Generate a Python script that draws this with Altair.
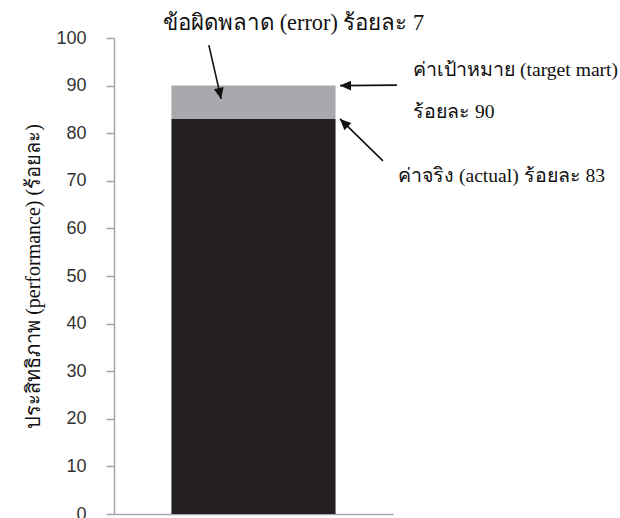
import altair as alt
import pandas as pd

# ---- data ----
categories = ["performance"]
segments = ["actual", "error"]
seg_values = [83, 7]
seg_order = [1, 2]
seg_colors = ["#231f20", "#a7a9ac"]

y_ticks = [0, 10, 20, 30, 40, 50, 60, 70, 80, 90, 100]
y_title = "ประสิทธิภาพ (performance) (ร้อยละ)"

# annotation text (x in 0..1 of plot width, y in axis units)
top_label = ["ข้อผิดพลาด (error) ร้อยละ 7"]
top_x = [0.176]
top_y = [101.7]
labels = ["ค่าเป้าหมาย (target mart)", "ร้อยละ 90", "ค่าจริง (actual) ร้อยละ 83"]
label_x = [1.072, 1.072, 1.018]
label_y = [92.0, 83.2, 69.7]

# arrows: start (x, y) -> tip (x2, y2)
arrow_x = [0.34, 1.014, 0.964]
arrow_y = [98.5, 90.1, 74.2]
arrow_x2 = [0.384, 0.81, 0.81]
arrow_y2 = [87.2, 90.0, 83.0]
arrow_angle = [167.5, 270, 314.3]

bars = pd.DataFrame({
    "cat": categories * len(segments),
    "segment": segments,
    "value": seg_values,
    "order": seg_order,
})
texts_top = pd.DataFrame({"label": top_label, "x": top_x, "y": top_y})
texts = pd.DataFrame({"label": labels, "x": label_x, "y": label_y})
arrows = pd.DataFrame({"x": arrow_x, "y": arrow_y, "x2": arrow_x2, "y2": arrow_y2, "angle": arrow_angle})

AX = "#a6a6a6"
FONT = "Liberation Serif"

yscale = alt.Scale(domain=[0, 100], nice=False)

bar = alt.Chart(bars).mark_bar().encode(
    x=alt.X("cat:N", scale=alt.Scale(paddingInner=0, paddingOuter=0.35),
            axis=alt.Axis(title=None, labels=False, ticks=False, domainColor=AX, domainWidth=1.5)),
    y=alt.Y("value:Q", stack="zero", scale=yscale,
            axis=alt.Axis(values=y_ticks, title=y_title, grid=False, tickSize=8, tickColor=AX, tickWidth=1.5,
                          domainColor=AX, domainWidth=1.5, labelPadding=20, labelFont="Liberation Sans",
                          labelFontSize=18, labelColor="#333333", titleFont=FONT, titleFontSize=20,
                          titleFontWeight="normal", titleColor="#111111", titleAngle=-90,
                          titleX=-81, titleY=238, titleAlign="center", titleBaseline="middle")),
    color=alt.Color("segment:N", scale=alt.Scale(domain=segments, range=seg_colors), legend=None),
    order=alt.Order("order:Q"),
)

xq = alt.Scale(domain=[0, 1], nice=False, zero=False)

txt_top = alt.Chart(texts_top).mark_text(align="left", baseline="alphabetic", font=FONT, fontSize=22.3,
                                         color="#111111").encode(
    x=alt.X("x:Q", scale=xq, axis=None),
    y=alt.Y("y:Q", scale=yscale),
    text="label:N",
)

txt = alt.Chart(texts).mark_text(align="left", baseline="alphabetic", font=FONT, fontSize=19.6,
                                 color="#111111").encode(
    x=alt.X("x:Q", scale=xq, axis=None),
    y=alt.Y("y:Q", scale=yscale),
    text="label:N",
)

shaft = alt.Chart(arrows).mark_rule(color="#111111", strokeWidth=1.6).encode(
    x=alt.X("x:Q", scale=xq, axis=None),
    y=alt.Y("y:Q", scale=yscale),
    x2="x2:Q",
    y2="y2:Q",
)

head = alt.Chart(arrows).mark_point(shape="M0,0L-0.45,1L0.45,1Z", filled=True, color="#111111",
                                    size=484, opacity=1).encode(
    x=alt.X("x2:Q", scale=xq, axis=None),
    y=alt.Y("y2:Q", scale=yscale),
    angle=alt.Angle("angle:Q", scale=None),
)

chart = alt.layer(bar, shaft, head, txt_top, txt).resolve_scale(x="independent").properties(
    width=279, height=476,
    autosize=alt.AutoSizeParams(type="none"),
    padding={"left": 114, "top": 38, "right": 227, "bottom": 4},
).configure_view(stroke=None)

chart.save("out.html", embed_options={"renderer": "svg", "actions": False})
